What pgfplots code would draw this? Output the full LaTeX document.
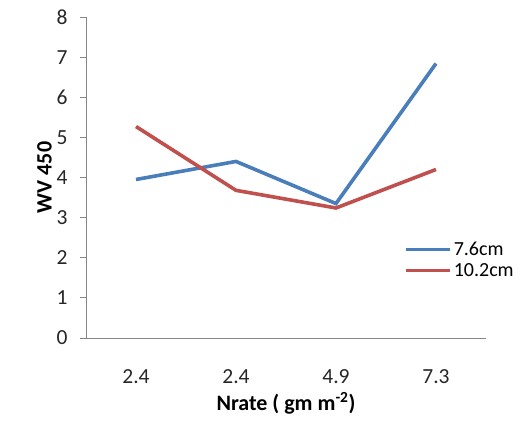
\documentclass[border=0pt]{standalone}
\usepackage{fontspec}
\setmainfont{Carlito}
\usepackage{pgfplots}
\pgfplotsset{compat=1.18}
\definecolor{xlblue}{RGB}{74,126,187}
\definecolor{xlred}{RGB}{192,80,77}
\definecolor{axgray}{RGB}{134,134,134}
\begin{document}
\begin{tikzpicture}
\begin{axis}[
  name=ax,
  scale only axis,
  width=400pt, height=321pt,
  xmin=-0.5, xmax=3.5,
  ymin=0, ymax=8,
  ytick={0,1,...,8},
  xtick={0,1,2,3},
  xticklabels={2.4,2.4,4.9,7.3},
  axis x line*=bottom,
  axis y line*=left,
  axis line style={axgray, line width=0.8pt},
  x axis line style={-},
  y axis line style={-},
  major x tick style={draw=none},
  major y tick style={axgray, line width=0.8pt},
  tick align=outside,
  major tick length=6pt,
  tick label style={font=\fontsize{21.5}{24}\selectfont, text=black!85},
  /pgf/number format/assume math mode=true,
  xticklabel style={yshift=-22pt},
  yticklabel style={xshift=-9pt},
  xlabel={\textbf{Nrate ( gm m\textsuperscript{-2})}},
  ylabel={\textbf{WV 450}},
  label style={font=\fontsize{22}{26}\selectfont},
  xlabel style={yshift=-2pt},
  ylabel style={yshift=-2pt},
  legend style={at={(0.79,0.175)}, anchor=south west, draw=none, fill=none,
    font=\fontsize{20}{24}\selectfont, row sep=2pt, cells={anchor=west},
    inner xsep=2pt},
  legend image code/.code={\draw[#1] (0pt,0pt) -- (44pt,0pt);},
]
\addplot[xlblue, line width=3.6pt] coordinates {(0,3.95) (1,4.40) (2,3.35) (3,6.84)};
\addlegendentry{7.6cm}
\addplot[xlred, line width=3.6pt] coordinates {(0,5.27) (1,3.68) (2,3.24) (3,4.20)};
\addlegendentry{10.2cm}
\end{axis}
\pgfresetboundingbox
\path ([shift={(-86pt,-89pt)}]ax.south west) rectangle ([shift={(34pt,17pt)}]ax.north east);
\end{tikzpicture}
\end{document}
